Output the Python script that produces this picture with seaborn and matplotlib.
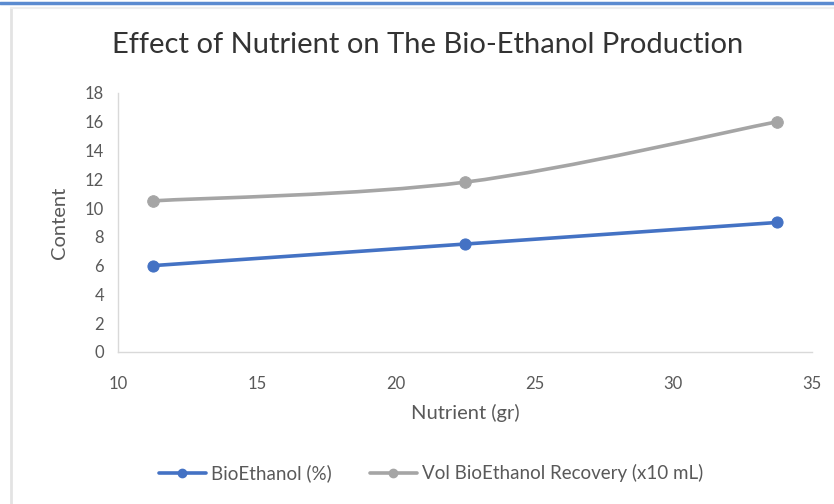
import numpy as np
import seaborn as sns
import matplotlib.pyplot as plt
from matplotlib.path import Path
from matplotlib.patches import PathPatch
from matplotlib.lines import Line2D

nutrient = [11.25, 22.5, 33.75]
bioethanol = [6.0, 7.5, 9.0]
vol_recovery = [10.5, 11.8, 16.0]
labels = ['BioEthanol (%)', 'Vol BioEthanol Recovery (x10 mL)']
xticks = [10, 15, 20, 25, 30, 35]
yticks = [0, 2, 4, 6, 8, 10, 12, 14, 16, 18]

sns.set_style('white')
plt.rcParams['font.family'] = ['Lato', 'DejaVu Sans']

blue = '#4472C4'
grey = '#A5A5A5'
txt = '#595959'

fig = plt.figure(figsize=(8.34, 5.04), dpi=100)
ax = fig.add_axes([0.1415, 0.3016, 0.832, 0.514])

# blue series, straight segments
sns.lineplot(x=nutrient, y=bioethanol, ax=ax, color=blue, linewidth=2.6,
             marker='o', markersize=8, markeredgecolor=blue, zorder=3)


# grey series, smoothed like excel (bezier through the points)
def smooth_path(xs, ys):
    pts = np.column_stack([xs, ys])
    n = len(pts)
    verts = [pts[0]]
    codes = [Path.MOVETO]
    for i in range(n - 1):
        p0 = pts[max(i - 1, 0)]
        p1 = pts[i]
        p2 = pts[i + 1]
        p3 = pts[min(i + 2, n - 1)]
        verts += [p1 + (p2 - p0) / 6, p2 - (p3 - p1) / 6, p2]
        codes += [Path.CURVE4] * 3
    return Path(verts, codes)


ax.add_patch(PathPatch(smooth_path(nutrient, vol_recovery), facecolor='none',
                       edgecolor=grey, linewidth=2.6, zorder=2))
sns.scatterplot(x=nutrient, y=vol_recovery, ax=ax, color=grey, s=70,
                edgecolor=grey, zorder=3)

ax.set_xlim(10, 35)
ax.set_ylim(0, 18)
ax.set_xticks(xticks)
ax.set_yticks(yticks)
ax.tick_params(axis='both', length=0, labelsize=12, labelcolor=txt)
ax.tick_params(axis='x', pad=17)
ax.tick_params(axis='y', pad=10)
for s in ['top', 'right']:
    ax.spines[s].set_visible(False)
for s in ['left', 'bottom']:
    ax.spines[s].set_color('#D9D9D9')
    ax.spines[s].set_linewidth(1)

ax.set_xlabel('Nutrient (gr)', fontsize=14.5, color=txt, labelpad=9)
ax.set_ylabel('Content', fontsize=14.5, color=txt, labelpad=12)
fig.text(0.513, 0.91, 'Effect of Nutrient on The Bio-Ethanol Production',
         fontsize=21, color='#333333', ha='center', va='center')

handles = [Line2D([], [], color=blue, lw=2.6, marker='o', markersize=6),
           Line2D([], [], color=grey, lw=2.6, marker='o', markersize=6)]
fig.legend(handles, labels, loc='center', bbox_to_anchor=(0.517, 0.061),
           ncol=2, frameon=False, fontsize=13.5, labelcolor=txt,
           handlelength=2.5, columnspacing=2.0, handletextpad=0.3)

# screenshot frame bits
fig.add_artist(Line2D([0, 1], [0.994, 0.994], color='#5B8BD0', lw=2.5))
fig.add_artist(Line2D([0.013, 0.013], [0, 0.985], color='#E3E3E3', lw=2))
fig.add_artist(Line2D([0.013, 1], [0.985, 0.985], color='#EEEEEE', lw=1.5))

fig.savefig('out.png', dpi=100)
